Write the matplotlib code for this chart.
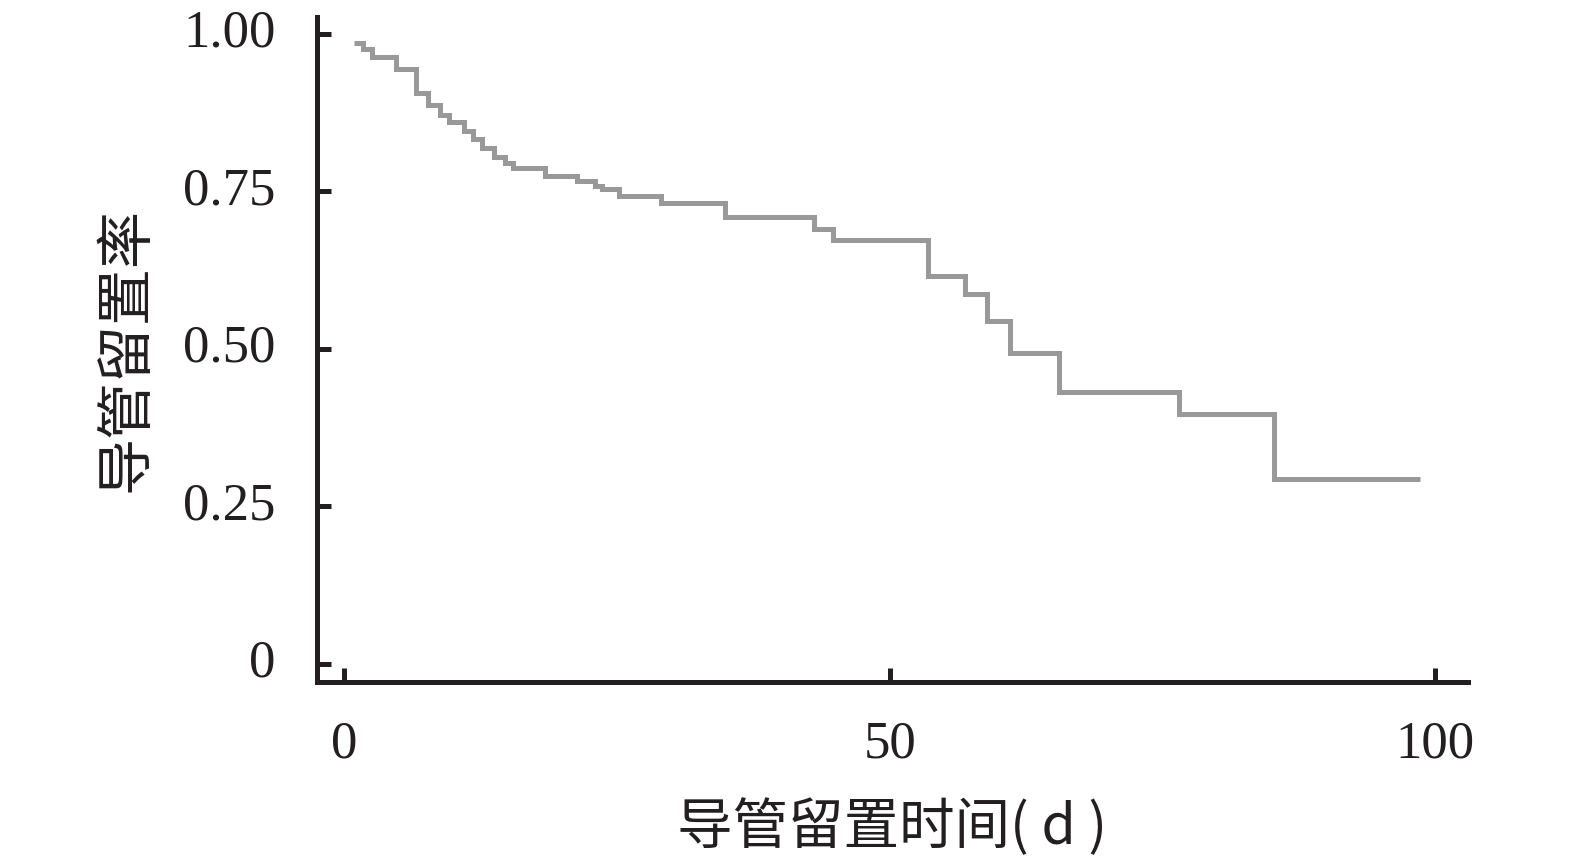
import matplotlib
matplotlib.use("Agg")
import matplotlib.pyplot as plt

# Kaplan-Meier style curve
times = [0.9, 1.7, 2.5, 4.7, 6.6, 7.7, 8.8, 9.6, 11.0, 11.8, 12.6, 13.7, 14.7, 15.5,
         18.4, 21.3, 23.0, 23.6, 25.2, 29.0, 34.9, 43.1, 44.8, 53.5, 56.9, 58.9,
         61.0, 65.5, 76.5, 85.2, 98.6]
surv = [0.986, 0.976, 0.964, 0.944, 0.907, 0.888, 0.872, 0.861, 0.846, 0.834, 0.819,
        0.805, 0.795, 0.787, 0.774, 0.767, 0.759, 0.754, 0.742, 0.732, 0.710, 0.690,
        0.673, 0.616, 0.587, 0.544, 0.493, 0.431, 0.397, 0.293, 0.293]

x_ticks = [0, 50, 100]
y_ticks = [0, 0.25, 0.50, 0.75, 1.00]
y_ticklabels = ["0", "0.25", "0.50", "0.75", "1.00"]

serif = ["Liberation Serif", "Noto Sans CJK SC"]
cjk = ["Noto Sans CJK SC", "Liberation Serif"]
ink = "#231f20"

fig = plt.figure(figsize=(15.75, 8.66), dpi=100)
ax = fig.add_axes([0.2013, 0.2125, 0.932 - 0.2013, 0.9804 - 0.2125])

ax.step(times, surv, where="post", color="#999999", lw=3.6,
        solid_joinstyle="miter", solid_capstyle="butt")

ax.set_xlim(-2.5, 103.0)
ax.set_ylim(-0.029, 1.027)

for side in ["top", "right"]:
    ax.spines[side].set_visible(False)
for side in ["left", "bottom"]:
    ax.spines[side].set_linewidth(3.6)
    ax.spines[side].set_color(ink)

ax.set_xticks(x_ticks)
ax.set_xticklabels([str(v) for v in x_ticks], family=serif, fontsize=38, color=ink)
ax.set_yticks(y_ticks)
ax.set_yticklabels(y_ticklabels, family=serif, fontsize=38, color=ink, va="center")
ax.tick_params(axis="both", direction="in", length=10, width=3.6, color=ink)
ax.tick_params(axis="y", pad=30)
ax.tick_params(axis="x", pad=28)

ax.set_xlabel("导管留置时间( d )", family=cjk, fontsize=40, color=ink, labelpad=22)
ax.set_ylabel("导管留置率", family=cjk, fontsize=41, color=ink, labelpad=20)

fig.savefig("out.png", dpi=100)
